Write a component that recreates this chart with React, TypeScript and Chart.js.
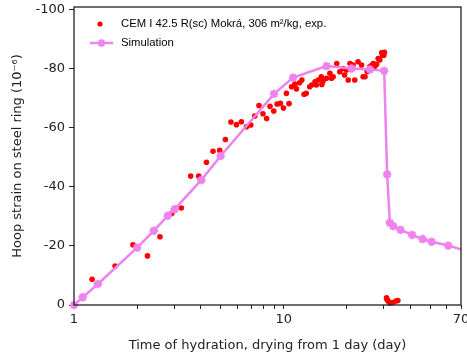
import React, { useEffect, useRef } from "react";
import { Chart, registerables } from "chart.js";

Chart.register(...registerables);

// ---- data ----
const expLabel = "CEM I 42.5 R(sc) Mokrá, 306 m²/kg, exp.";
const simLabel = "Simulation";

const expTime = [
  1.22, 1.57, 1.91, 2.24, 2.57, 2.93, 3.25, 3.6, 3.93, 4.28, 4.6, 4.95, 5.27, 5.6, 5.95, 6.28, 6.64, 6.96,
  7.27, 7.62, 7.96, 8.29, 8.6, 8.96, 9.29, 9.64, 9.97, 10.3, 10.6, 10.9, 11.3, 11.5, 11.9, 12.2, 12.5, 12.8,
  13.3, 13.6, 14.1, 14.3, 14.6, 15.1, 15.2, 15.4, 16.0, 16.6, 16.9, 17.2, 17.9, 18.5, 19.2, 19.5, 19.9, 20.3,
  20.7, 21.4, 21.8, 22.6, 23.5, 23.9, 24.4, 25.0, 25.7, 26.2, 26.7, 27.2, 27.7, 28.2, 28.7, 29.3, 29.6, 30.0,
  30.2, 30.9, 31.0, 31.4, 32.1, 33.1, 34.3, 35.0,
];
const expStrain = [
  -8.7, -13.2, -20.4, -16.6, -23.1, -31.0, -32.8, -43.6, -43.6, -48.3, -52.0, -52.3, -56.0, -61.9, -61.0, -62.0,
  -60.3, -60.9, -63.9, -67.5, -64.7, -63.1, -67.2, -65.6, -68.0, -68.2, -66.6, -71.6, -68.1, -73.8, -74.7, -73.1,
  -75.2, -76.1, -71.3, -71.6, -73.8, -74.4, -75.5, -74.4, -76.1, -77.2, -74.6, -75.8, -76.7, -78.4, -76.7, -77.2,
  -81.7, -78.9, -80.0, -77.8, -79.5, -76.1, -81.7, -81.2, -76.1, -82.3, -81.2, -77.2, -77.2, -79.0, -80.6, -81.0,
  -81.7, -80.8, -81.4, -83.4, -82.9, -85.3, -84.5, -84.5, -85.5, -2.4, -2.0, -1.35, -0.7, -0.85, -1.35, -1.5,
];

const simTime = [1, 1.1, 1.3, 2.0, 2.4, 2.8, 3.02, 4.05, 5.0, 8.99, 11.08, 15.99, 21.05, 25.74, 30.12, 31.12, 32.06, 33.24, 36.06, 40.96, 45.92, 50.7, 60.84, 70];
const simStrain = [0, -2.6, -7.1, -19.4, -25.1, -30.2, -32.4, -42.3, -50.4, -71.4, -76.9, -80.8, -80.0, -79.7, -79.2, -44.2, -27.8, -26.7, -25.4, -23.7, -22.3, -21.4, -20.1, -18.8];

const xTickValues = [1, 2, 3, 4, 5, 6, 7, 8, 9, 10, 20, 30, 40, 50, 60, 70];
const xTickLabelled = [1, 10, 70];
const yTickValues = [-100, -80, -60, -40, -20, 0];

const xTitle = "Time of hydration, drying from 1 day (day)";
const yTitle = "Hoop strain on steel ring (10⁻⁶)";

const AXIS = "#222222";
const RED = "#ff0000";
const VIOLET = "#ee82ee";

const framePlugin = {
  id: "frame",
  afterDraw(chart: any) {
    const { ctx, chartArea } = chart;
    ctx.save();
    ctx.strokeStyle = AXIS;
    ctx.lineWidth = 1.3;
    ctx.strokeRect(chartArea.left, chartArea.top, chartArea.right - chartArea.left, chartArea.bottom - chartArea.top);
    ctx.restore();
  },
};

const legendPlugin = {
  id: "insideLegend",
  afterDraw(chart: any) {
    const { ctx, chartArea } = chart;
    const ds = chart.data.datasets;
    const l = chartArea.left;
    const t = chartArea.top;
    ctx.save();
    ctx.font = "11.3px 'Liberation Sans', Arial, sans-serif";
    ctx.textBaseline = "middle";
    ctx.textAlign = "left";
    // item 1: experimental points
    const y1 = t + 17;
    ctx.fillStyle = ds[0].backgroundColor;
    ctx.beginPath();
    ctx.arc(l + 26, y1, 2.6, 0, Math.PI * 2);
    ctx.fill();
    ctx.fillStyle = "#000";
    ctx.fillText(ds[0].label, l + 47, y1);
    // item 2: simulation
    const y2 = t + 36;
    ctx.strokeStyle = ds[1].borderColor;
    ctx.lineWidth = 2.5;
    ctx.beginPath();
    ctx.moveTo(l + 16, y2);
    ctx.lineTo(l + 39, y2);
    ctx.stroke();
    ctx.lineWidth = 2;
    const cx = l + 27.5;
    ctx.beginPath();
    for (let k = 0; k < 4; k++) {
      const a = (k * Math.PI) / 4;
      ctx.moveTo(cx - 4 * Math.cos(a), y2 - 4 * Math.sin(a));
      ctx.lineTo(cx + 4 * Math.cos(a), y2 + 4 * Math.sin(a));
    }
    ctx.stroke();
    ctx.fillStyle = "#000";
    ctx.fillText(ds[1].label, l + 47, y2);
    ctx.restore();
  },
};

export default function App() {
  const ref = useRef<HTMLCanvasElement | null>(null);

  useEffect(() => {
    if (!ref.current) return;
    const tickFont = { family: "'DejaVu Sans', sans-serif", size: 13 };
    const chart = new Chart(ref.current, {
      type: "scatter",
      data: {
        datasets: [
          {
            label: expLabel,
            data: expTime.map((x, i) => ({ x, y: expStrain[i] })),
            backgroundColor: RED,
            borderColor: RED,
            pointRadius: 2.8,
            pointBorderWidth: 0,
            showLine: false,
            clip: false as any,
            order: 2,
          },
          {
            label: simLabel,
            data: simTime.map((x, i) => ({ x, y: simStrain[i] })),
            showLine: true,
            borderColor: VIOLET,
            backgroundColor: VIOLET,
            borderWidth: 2.5,
            pointStyle: "star",
            pointRadius: simTime.map((_, i) => (i === simTime.length - 1 ? 0 : 4.2)),
            pointBorderWidth: 2.4,
            pointBorderColor: VIOLET,
            tension: 0,
            clip: false as any,
            order: 1,
          },
        ],
      },
      options: {
        responsive: false,
        animation: false,
        devicePixelRatio: 1,
        layout: { padding: { left: 0, top: 7, right: 29, bottom: 0 } },
        plugins: {
          legend: { display: false },
          tooltip: { enabled: false },
        },
        scales: {
          x: {
            type: "logarithmic",
            position: "bottom",
            min: 1,
            max: 70,
            afterBuildTicks: (scale: any) => {
              scale.ticks = xTickValues.map((v) => ({ value: v }));
            },
            afterFit: (scale: any) => {
              scale.height = 52;
              scale.paddingLeft = 0;
              scale.paddingRight = 0;
            },
            ticks: {
              autoSkip: false,
              maxRotation: 0,
              font: tickFont,
              color: AXIS,
              padding: 3,
              callback: (v: any) => (xTickLabelled.includes(Number(v)) ? String(v) : ""),
            },
            grid: { drawOnChartArea: false, drawTicks: true, tickLength: 4, color: AXIS },
            border: { display: false },
            title: {
              display: true,
              text: xTitle,
              font: tickFont,
              color: AXIS,
              padding: { top: 0, bottom: 4 },
            },
          },
          y: {
            type: "linear",
            min: -100.8,
            max: 0,
            reverse: true,
            afterBuildTicks: (scale: any) => {
              scale.ticks = yTickValues.map((v) => ({ value: v }));
            },
            afterFit: (scale: any) => {
              scale.width = 74;
              scale.paddingTop = 0;
              scale.paddingBottom = 0;
            },
            ticks: {
              font: tickFont,
              color: AXIS,
              padding: 4,
              callback: (v: any) => String(v),
            },
            grid: { drawOnChartArea: false, drawTicks: true, tickLength: 5, color: AXIS },
            border: { display: false },
            title: {
              display: true,
              text: yTitle,
              font: tickFont,
              color: AXIS,
              padding: { top: 10, bottom: 0 },
            },
          },
        },
      } as any,
      plugins: [framePlugin, legendPlugin],
    });
    return () => chart.destroy();
  }, []);

  return (
    <div
      style={{
        position: "fixed",
        left: 0,
        top: 0,
        width: 467,
        height: 357,
        overflow: "hidden",
        background: "#fff",
      }}
    >
      <canvas ref={ref} width={490} height={357} style={{ display: "block" }} />
    </div>
  );
}
